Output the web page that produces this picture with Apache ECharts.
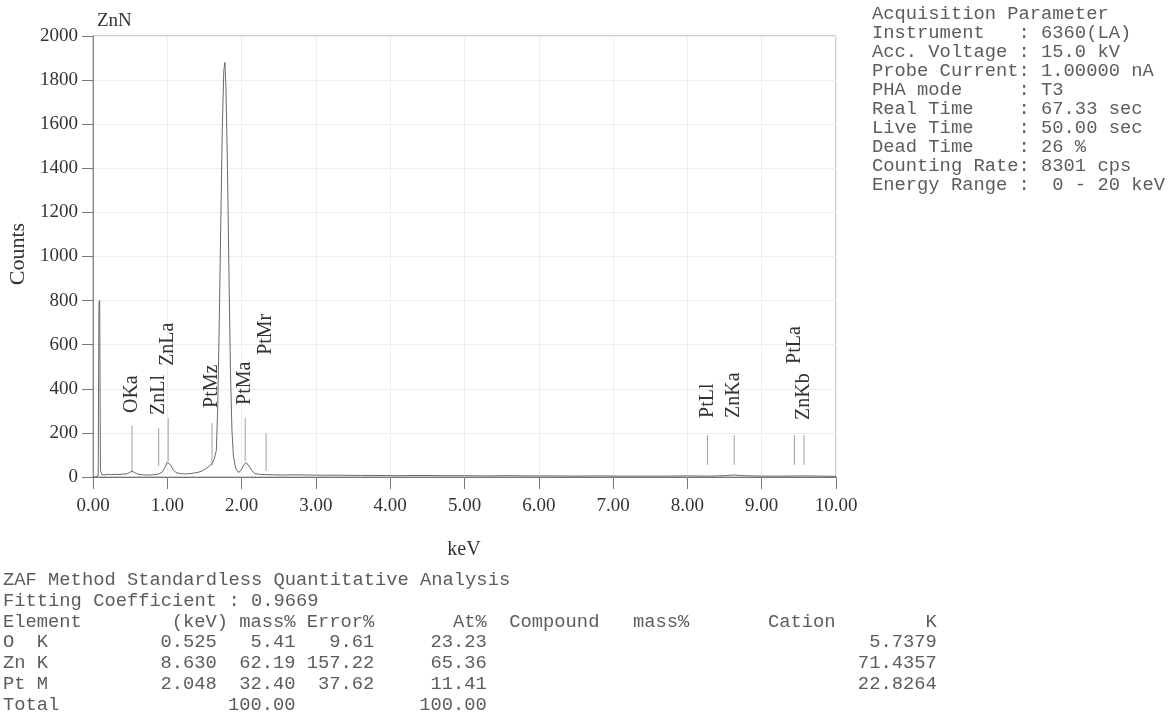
<!DOCTYPE html>
<html><head><meta charset="utf-8">
<script src="https://cdn.jsdelivr.net/npm/echarts@6/dist/echarts.min.js"></script>
<style>html,body{margin:0;padding:0;background:#fff}#c{width:1170px;height:718px}</style>
</head><body><div id="c"></div>
<script>
// ---- spectrum (keV, counts) ----
const specE = [0.00,0.04,0.07,0.08,0.09,0.10,0.12,0.16,0.20,0.25,0.30,0.35,0.40,0.45,0.48,0.52,0.56,0.60,0.65,0.70,0.75,0.80,0.85,0.90,0.94,0.97,1.00,1.02,1.05,1.08,1.12,1.18,1.25,1.32,1.40,1.46,1.52,1.56,1.60,1.63,1.66,1.68,1.70,1.72,1.74,1.76,1.775,1.79,1.81,1.83,1.85,1.87,1.89,1.92,1.96,2.00,2.03,2.06,2.08,2.11,2.14,2.18,2.24,2.32,2.42,2.55,2.70,2.90,3.10,3.35,3.60,3.85,4.10,4.40,4.70,5.00,5.30,5.60,5.90,6.20,6.50,6.80,7.10,7.40,7.70,8.00,8.30,8.50,8.63,8.75,9.00,9.30,9.57,9.80,10.00];
const specC = [0,0,5,790,800,30,10,10,12,11,12,11,13,14,18,27,20,14,11,9,9,10,11,16,25,45,68,70,52,32,20,15,14,16,20,26,38,48,60,80,120,330,720,1150,1580,1840,1880,1760,1400,920,480,210,95,40,20,35,55,66,62,45,28,16,12,11,10,9,10,9,8,8,7,7,6,7,6,6,5,6,5,5,4,5,4,4,4,5,4,6,9,6,4,4,5,4,3];

// ---- element markers ----
const markNames   = ["OKa","ZnLl","ZnLa","PtMz","PtMa","PtMr","PtLl","ZnKa","PtLa","ZnKb"];
const markE       = [0.525,0.884,1.012,1.602,2.048,2.33,8.27,8.63,9.44,9.57];
const markLow     = [20,50,72,50,72,27,55,55,55,55];
const markHigh    = [232,222,268,245,268,200,190,190,190,190];
const markLabelAt = [290,281,504,313,327,554,268,268,513,259];

// ---- axis ticks ----
const xTickStep = 1, xMax = 10, yTickStep = 200, yMax = 2000;

// ---- acquisition parameters ----
const paramLines = [
  "Acquisition Parameter",
  "Instrument   : 6360(LA)",
  "Acc. Voltage : 15.0 kV",
  "Probe Current: 1.00000 nA",
  "PHA mode     : T3",
  "Real Time    : 67.33 sec",
  "Live Time    : 50.00 sec",
  "Dead Time    : 26 %",
  "Counting Rate: 8301 cps",
  "Energy Range :  0 - 20 keV"
];

// ---- quantitative table ----
const tableTitle = "ZAF Method Standardless Quantitative Analysis";
const fitLine = "Fitting Coefficient : 0.9669";
const tElements = ["O  K","Zn K","Pt M","Total"];
const tKeV      = ["0.525","8.630","2.048",""];
const tMass     = ["5.41","62.19","32.40","100.00"];
const tError    = ["9.61","157.22","37.62",""];
const tAt       = ["23.23","65.36","11.41","100.00"];
const tK        = ["5.7379","71.4357","22.8264",""];

const MONO = '"Liberation Mono", "DejaVu Sans Mono", monospace';
const SERIF = '"Liberation Serif", "DejaVu Serif", serif';
const monoSize = 18.8, cw = 11.25, tx0 = 3;
const monoColor = '#5c5c5c';

const graphics = [];
function mtext(str, x, y, align) {
  graphics.push({type:'text', x:x, y:y, silent:true,
    style:{text:str, font: monoSize + 'px ' + MONO, fill: monoColor,
      align: align || 'left', textAlign: align || 'left', verticalAlign:'middle', textVerticalAlign:'middle'}});
}
// right panel
paramLines.forEach((s,i)=> mtext(s, 872, 14 + i*19));
// table
const rowY0 = 580, rowDy = 20.8;
mtext(tableTitle, tx0, rowY0);
mtext(fitLine, tx0, rowY0 + rowDy);
const hy = rowY0 + 2*rowDy;
const colX = c => tx0 + c*cw;
mtext("Element", colX(0), hy);
mtext("(keV)", colX(20), hy, 'right');
mtext("mass%", colX(26), hy, 'right');
mtext("Error%", colX(33), hy, 'right');
mtext("At%", colX(43), hy, 'right');
mtext("Compound", colX(45), hy);
mtext("mass%", colX(61), hy, 'right');
mtext("Cation", colX(68), hy);
mtext("K", colX(83), hy, 'right');
tElements.forEach((el,i)=>{
  const y = hy + (i+1)*rowDy;
  mtext(el, colX(0), y);
  if (tKeV[i]) mtext(tKeV[i], colX(19), y, 'right');
  if (tMass[i]) mtext(tMass[i], colX(26), y, 'right');
  if (tError[i]) mtext(tError[i], colX(33), y, 'right');
  if (tAt[i]) mtext(tAt[i], colX(43), y, 'right');
  if (tK[i]) mtext(tK[i], colX(83), y, 'right');
});
// title & axis names
graphics.push({type:'text', x:97, y:21, silent:true, style:{text:'ZnN', font:'19px ' + SERIF, fill:'#333', align:'left', textAlign:'left', verticalAlign:'middle', textVerticalAlign:'middle'}});
graphics.push({type:'text', x:18, y:254, rotation:Math.PI/2, silent:true, style:{text:'Counts', font:'22px ' + SERIF, fill:'#333', align:'center', textAlign:'center', verticalAlign:'middle', textVerticalAlign:'middle'}});
graphics.push({type:'text', x:464, y:550, silent:true, style:{text:'keV', font:'20px ' + SERIF, fill:'#333', align:'center', textAlign:'center', verticalAlign:'middle', textVerticalAlign:'middle'}});

const chart = echarts.init(document.getElementById('c'), null, {renderer:'canvas'});
chart.setOption({
  animation:false,
  backgroundColor:'#fff',
  grid:{left:93, right:334, top:36, bottom:241, show:true, borderColor:'#9a9a9a', borderWidth:1},
  xAxis:{type:'value', min:0, max:xMax, interval:xTickStep,
    axisLine:{show:true, onZero:false, lineStyle:{color:'#777', width:1}},
    axisTick:{show:true, length:12, lineStyle:{color:'#777'}},
    axisLabel:{margin:20, color:'#333', fontFamily:SERIF, fontSize:19, formatter:v=>v.toFixed(2)},
    splitLine:{show:true, lineStyle:{color:'#eeeeee', width:1}}},
  yAxis:{type:'value', min:0, max:yMax, interval:yTickStep,
    axisLine:{show:true, lineStyle:{color:'#888', width:1}},
    axisTick:{show:true, length:11, lineStyle:{color:'#777'}},
    axisLabel:{margin:15, color:'#333', fontFamily:SERIF, fontSize:19, formatter:v=>String(v)},
    splitLine:{show:true, lineStyle:{color:'#eeeeee', width:1}}},
  graphic: graphics,
  series:[
    {type:'line', data: specE.map((e,i)=>[e, specC[i]]), showSymbol:false, symbol:'none',
      lineStyle:{color:'#6a6a6a', width:1}, z:3},
    {type:'custom', data: markE.map((e,i)=>[e, markLow[i], markHigh[i], markLabelAt[i]]), z:2,
      renderItem:function(params, api){
        const e = api.value(0);
        const p1 = api.coord([e, api.value(1)]);
        const p2 = api.coord([e, api.value(2)]);
        const p3 = api.coord([e, api.value(3)]);
        return {type:'group', children:[
          {type:'line', shape:{x1:p1[0], y1:p1[1], x2:p2[0], y2:p2[1]}, style:{stroke:'#a0a0a0', lineWidth:1}},
          {type:'text', x:p3[0], y:p3[1], rotation:Math.PI/2,
            style:{text:markNames[params.dataIndex], font:'20px ' + SERIF, fill:'#333',
              align:'left', verticalAlign:'middle'}}
        ]};
      }}
  ]
});
</script></body></html>
